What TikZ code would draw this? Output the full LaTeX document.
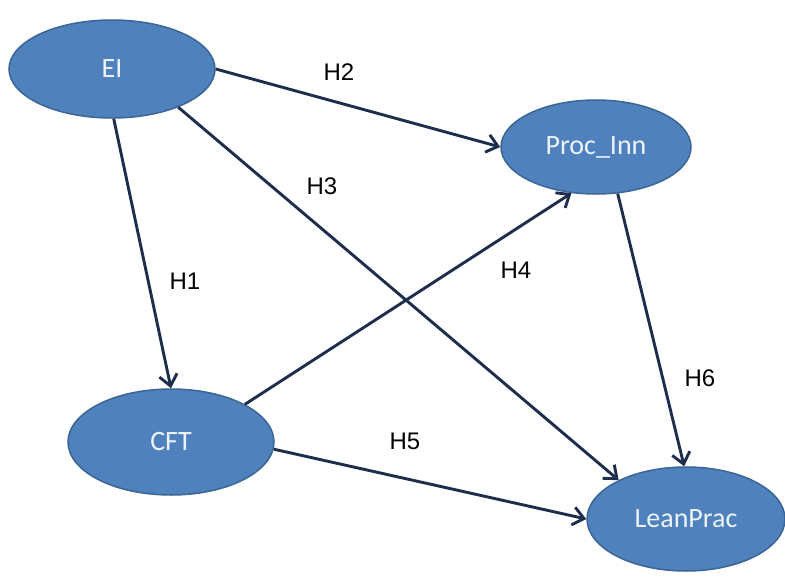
\documentclass[tikz,border=0pt]{standalone}
\usepackage{fontspec}
\setmainfont{Liberation Sans}
\newfontfamily\calfont{Carlito}
\usetikzlibrary{shapes.geometric,arrows.meta}
\definecolor{varfill}{HTML}{4F81BD}
\definecolor{varline}{HTML}{3A6594}
\definecolor{vartext}{HTML}{EEF3FA}
\definecolor{pathcol}{HTML}{1D2D4C}
\begin{document}
\begin{tikzpicture}[x=1pt,y=-1pt,
		latent/.style={ellipse, fill=varfill, draw=varline, line width=1.5pt, inner sep=0pt, text=vartext, font=\calfont\fontsize{28}{32}\selectfont},
		hyp/.style={line width=2.9pt, draw=pathcol, -{Straight Barb[length=11pt,width=18pt,line width=2.9pt]}},
		hlabel/.style={font=\fontsize{24}{28}\selectfont, text=black}]
		\useasboundingbox (0,0) rectangle (785,578);
		\node[latent, minimum width=206pt, minimum height=98pt] (EI) at (112,69) {EI};
		\node[latent, minimum width=190pt, minimum height=94pt] (Proc) at (596,147) {Proc\_Inn};
		\node[latent, minimum width=206pt, minimum height=106pt] (CFT) at (171,442) {CFT};
		\node[latent, minimum width=198pt, minimum height=104pt] (Lean) at (686,519) {LeanPrac};
		\draw[hyp] (EI.-88) -- (CFT.north);
		\draw[hyp] (EI.east) -- (Proc.west);
		\draw[hyp] (EI.-30) -- (Lean.150);
		\draw[hyp] (CFT.27) -- (Proc.-118);
		\draw[hyp] (CFT.-4) -- (Lean.west);
		\draw[hyp] (Proc.-65) -- (Lean.92);
		\node[hlabel] (h1) at (185,281) {H1};
		\node[hlabel] (h2) at (339,72) {H2};
		\node[hlabel] (h3) at (322,186) {H3};
		\node[hlabel] (h4) at (516,270) {H4};
		\node[hlabel] (h5) at (405,441) {H5};
		\node[hlabel] (h6) at (700,378) {H6};
	\end{tikzpicture}
\end{document}
